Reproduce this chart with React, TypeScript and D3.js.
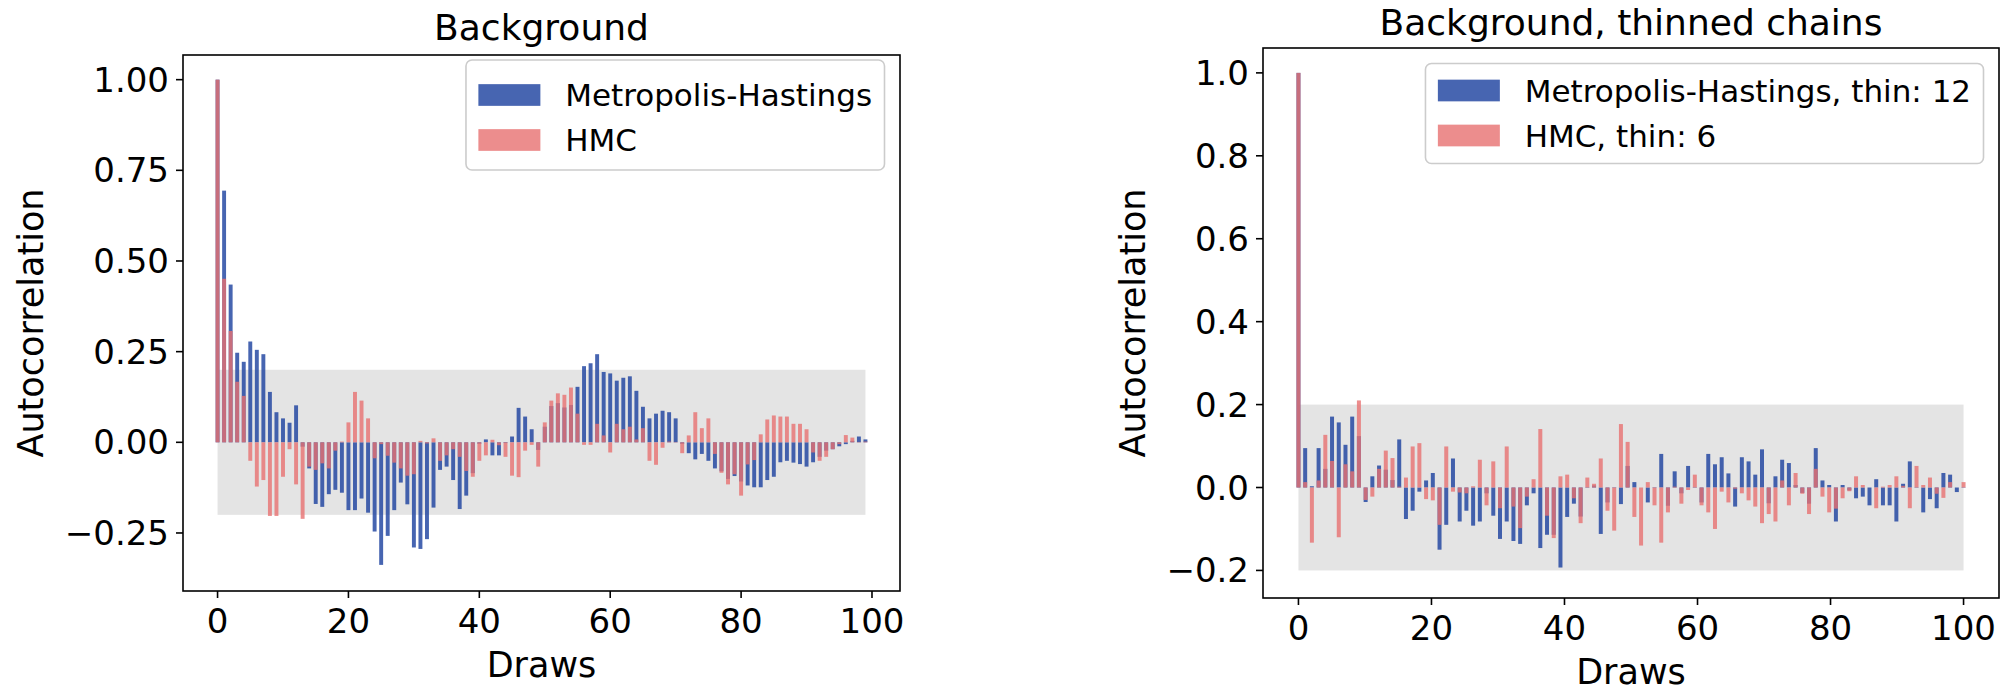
import { useEffect, useRef } from "react";
import * as d3 from "d3";

// lags (left: raw chains, right: thinned chains spread over the same draw axis)
const LEFT_LAGS = Array.from({ length: 100 }, (_, i) => i);
const RIGHT_DRAWS = Array.from({ length: 100 }, (_, i) => (i * 100) / 99);

const LEFT_MH = [
  1.0, 0.694, 0.435, 0.247, 0.222, 0.278, 0.255, 0.243, 0.139, 0.083,
  0.066, 0.054, 0.102, -0.012, -0.072, -0.17, -0.178, -0.143, -0.131, -0.139,
  -0.187, -0.187, -0.155, -0.194, -0.246, -0.338, -0.258, -0.187, -0.111, -0.171,
  -0.29, -0.294, -0.267, -0.18, -0.076, -0.067, -0.104, -0.184, -0.147, -0.085,
  -0.004, 0.008, -0.036, -0.036, -0.002, 0.016, 0.095, 0.071, 0.036, -0.021,
  0.043, 0.1, 0.108, 0.096, 0.103, 0.153, 0.21, 0.218, 0.243, 0.194,
  0.19, 0.17, 0.178, 0.182, 0.142, 0.098, 0.066, 0.079, 0.087, 0.083,
  0.066, -0.004, -0.03, -0.047, -0.032, -0.051, -0.072, -0.08, -0.101, -0.093,
  -0.108, -0.119, -0.124, -0.124, -0.104, -0.095, -0.055, -0.051, -0.056, -0.06,
  -0.067, -0.055, -0.04, -0.023, -0.019, -0.011, -0.005, 0.004, 0.016, 0.008,
];

const LEFT_HMC = [
  1.0, 0.451, 0.307, 0.167, 0.128, -0.051, -0.122, -0.104, -0.203, -0.203,
  -0.095, -0.019, -0.116, -0.211, -0.067, -0.076, -0.058, -0.072, -0.023, 0.002,
  0.055, 0.139, 0.115, 0.066, -0.044, -0.005, -0.037, -0.056, -0.072, -0.092,
  -0.088, 0.004, -0.003, 0.011, -0.051, -0.036, -0.019, -0.04, -0.079, -0.095,
  -0.051, -0.036, 0.007, -0.008, -0.04, -0.092, -0.096, -0.023, -0.007, -0.067,
  0.055, 0.115, 0.135, 0.131, 0.151, 0.079, -0.007, -0.007, 0.051, 0.019,
  -0.028, 0.051, 0.036, 0.043, 0.008, 0.039, -0.051, -0.062, -0.015, 0.002,
  0.001, -0.03, 0.019, 0.083, 0.039, 0.066, -0.032, -0.084, -0.116, -0.088,
  -0.147, -0.061, -0.049, 0.022, 0.063, 0.074, 0.071, 0.071, 0.051, 0.051,
  0.036, -0.028, -0.051, -0.04, -0.019, -0.005, 0.02, 0.013, 0.001, 0.002,
];

const RIGHT_MH = [
  1.0, 0.095, 0.003, 0.095, 0.045, 0.171, 0.157, 0.103, 0.171, 0.124,
  -0.035, 0.027, 0.053, 0.043, 0.018, 0.116, -0.076, -0.056, -0.01, 0.017,
  0.035, -0.15, -0.09, 0.07, -0.082, -0.056, -0.092, -0.082, -0.014, -0.068,
  -0.124, -0.082, -0.129, -0.136, -0.043, -0.014, -0.146, -0.114, -0.114, -0.193,
  -0.071, -0.039, -0.07, 0.001, 0.005, -0.112, -0.036, 0.001, -0.04, 0.052,
  0.013, 0.0, -0.036, 0.001, 0.081, -0.044, 0.039, -0.014, 0.052, 0.001,
  -0.036, 0.081, 0.056, 0.073, 0.034, -0.046, 0.073, 0.063, 0.031, 0.092,
  -0.038, 0.027, 0.067, 0.059, 0.006, -0.013, -0.039, 0.095, 0.017, 0.006,
  -0.082, 0.006, -0.007, -0.026, -0.022, -0.043, 0.02, -0.043, -0.043, -0.082,
  0.009, 0.063, 0.001, -0.06, -0.028, -0.05, 0.035, 0.031, -0.011, 0.001,
];

const RIGHT_HMC = [
  1.0, 0.013, -0.133, 0.017, 0.127, 0.064, -0.12, 0.056, 0.039, 0.21,
  -0.03, -0.022, 0.045, 0.089, 0.071, 0.002, 0.024, 0.099, 0.107, -0.028,
  -0.031, -0.09, 0.099, -0.01, -0.012, -0.014, 0.003, 0.067, -0.043, 0.063,
  -0.05, 0.099, -0.046, -0.098, -0.022, 0.02, 0.141, -0.068, -0.122, 0.027,
  0.031, -0.026, -0.086, 0.024, 0.009, 0.07, -0.056, -0.104, 0.153, 0.11,
  -0.071, -0.14, 0.013, -0.043, -0.133, -0.06, 0.002, -0.039, -0.006, 0.031,
  -0.043, -0.06, -0.1, -0.01, -0.036, -0.003, -0.014, -0.031, -0.046, -0.086,
  -0.064, -0.082, 0.017, -0.043, 0.035, -0.015, -0.064, 0.045, -0.022, -0.06,
  -0.051, -0.026, -0.009, 0.027, 0.006, 0.0, -0.05, 0.002, 0.006, 0.027,
  0.004, -0.05, 0.052, 0.006, 0.024, -0.015, -0.025, 0.013, 0.0, 0.013,
];

const X_TICKS = [0, 20, 40, 60, 80, 100];
const LEFT_Y_TICKS = [-0.25, 0, 0.25, 0.5, 0.75, 1.0];
const RIGHT_Y_TICKS = [-0.2, 0, 0.2, 0.4, 0.6, 0.8, 1.0];

const MH_COLOR = "rgb(25,62,158)";
const HMC_COLOR = "rgb(231,112,113)";
const BAR_ALPHA = 0.8;
const FONT = "'DejaVu Sans', sans-serif";
const TICK_FS = 34;

interface Panel {
  x0: number;
  x1: number;
  y0: number;
  y1: number;
  xDomain: [number, number];
  yDomain: [number, number];
  yTicks: number[];
  yFmt: string;
  xs: number[];
  mh: number[];
  hmc: number[];
  band: [number, number];
  title: string;
  titleY: number;
  ylabelX: number;
  xlabelY: number;
  legend: string[];
  legendTop: number;
  legendH: number;
  legendRow: number;
}

const PANELS: Panel[] = [
  {
    x0: 183, x1: 900, y0: 55, y1: 591,
    xDomain: [-5.28, 104.28], yDomain: [-0.41, 1.068],
    yTicks: LEFT_Y_TICKS, yFmt: ".2f",
    xs: LEFT_LAGS, mh: LEFT_MH, hmc: LEFT_HMC, band: [0, 99],
    title: "Background", titleY: 40, ylabelX: 31, xlabelY: 677,
    legend: ["Metropolis-Hastings", "HMC"],
    legendTop: 60, legendH: 110, legendRow: 35,
  },
  {
    x0: 1263, x1: 1999, y0: 48, y1: 598,
    xDomain: [-5.33, 105.33], yDomain: [-0.2665, 1.06],
    yTicks: RIGHT_Y_TICKS, yFmt: ".1f",
    xs: RIGHT_DRAWS, mh: RIGHT_MH, hmc: RIGHT_HMC, band: [0, 100],
    title: "Background, thinned chains", titleY: 35, ylabelX: 1133, xlabelY: 684,
    legend: ["Metropolis-Hastings, thin: 12", "HMC, thin: 6"],
    legendTop: 63.5, legendH: 100, legendRow: 27,
  },
];

function drawPanel(svg: d3.Selection<SVGSVGElement, unknown, null, undefined>, p: Panel) {
  const x = d3.scaleLinear().domain(p.xDomain).range([p.x0, p.x1]);
  const y = d3.scaleLinear().domain(p.yDomain).range([p.y1, p.y0]);
  const g = svg.append("g");
  const bw = 0.6;

  // +/- 0.2 band
  g.append("rect")
    .attr("x", x(p.band[0]))
    .attr("width", x(p.band[1]) - x(p.band[0]))
    .attr("y", y(0.2))
    .attr("height", y(-0.2) - y(0.2))
    .attr("fill", "#e4e4e4");

  const bars = (vals: number[], color: string) =>
    g.append("g")
      .selectAll("rect")
      .data(vals)
      .join("rect")
      .attr("x", (_, i) => x(p.xs[i] - bw / 2))
      .attr("width", x(bw) - x(0))
      .attr("y", (d) => y(Math.max(0, d)))
      .attr("height", (d) => Math.abs(y(d) - y(0)))
      .attr("fill", color)
      .attr("fill-opacity", BAR_ALPHA);

  bars(p.mh, MH_COLOR);
  bars(p.hmc, HMC_COLOR);

  // frame
  g.append("rect")
    .attr("x", p.x0).attr("y", p.y0)
    .attr("width", p.x1 - p.x0).attr("height", p.y1 - p.y0)
    .attr("fill", "none").attr("stroke", "#000").attr("stroke-width", 1.6);

  // x axis
  const xa = g.append("g").attr("transform", `translate(0,${p.y1})`);
  xa.selectAll("line").data(X_TICKS).join("line")
    .attr("x1", (d) => x(d)).attr("x2", (d) => x(d))
    .attr("y1", 0).attr("y2", 7).attr("stroke", "#000").attr("stroke-width", 1.6);
  xa.selectAll("text").data(X_TICKS).join("text")
    .attr("x", (d) => x(d)).attr("y", 42)
    .attr("text-anchor", "middle")
    .attr("font-family", FONT).attr("font-size", TICK_FS)
    .text((d) => d);

  // y axis
  const fmt = d3.format(p.yFmt);
  const ya = g.append("g").attr("transform", `translate(${p.x0},0)`);
  ya.selectAll("line").data(p.yTicks).join("line")
    .attr("x1", -7).attr("x2", 0)
    .attr("y1", (d) => y(d)).attr("y2", (d) => y(d))
    .attr("stroke", "#000").attr("stroke-width", 1.6);
  ya.selectAll("text").data(p.yTicks).join("text")
    .attr("x", -14).attr("y", (d) => y(d) + 12)
    .attr("text-anchor", "end")
    .attr("font-family", FONT).attr("font-size", TICK_FS)
    .text((d) => fmt(d));

  // labels and title
  const cx = (p.x0 + p.x1) / 2;
  g.append("text")
    .attr("x", cx).attr("y", p.titleY)
    .attr("text-anchor", "middle")
    .attr("font-family", FONT).attr("font-size", 36)
    .text(p.title);
  g.append("text")
    .attr("x", cx).attr("y", p.xlabelY)
    .attr("text-anchor", "middle")
    .attr("font-family", FONT).attr("font-size", 35)
    .text("Draws");
  g.append("text")
    .attr("transform", `translate(${p.ylabelX},${(p.y0 + p.y1) / 2}) rotate(-90)`)
    .attr("text-anchor", "middle")
    .attr("dominant-baseline", "central")
    .attr("font-family", FONT).attr("font-size", 35)
    .text("Autocorrelation");

  // legend, sized from the measured label widths
  const fs = 31;
  const lg = g.append("g");
  const frame = lg.append("rect");
  const texts = lg.selectAll("text").data(p.legend).join("text")
    .attr("font-family", FONT).attr("font-size", fs)
    .attr("dominant-baseline", "central")
    .text((d) => d);
  let tw = 0;
  texts.each(function () {
    tw = Math.max(tw, (this as SVGTextElement).getComputedTextLength());
  });
  const pad = 0.4 * fs;
  const boxW = pad + 2 * fs + 0.8 * fs + tw + pad;
  const bx = p.x1 - 15.5 - boxW;
  const by = p.legendTop;
  frame
    .attr("x", bx).attr("y", by).attr("width", boxW).attr("height", p.legendH)
    .attr("rx", 6).attr("fill", "#fff").attr("fill-opacity", 0.8)
    .attr("stroke", "#cccccc").attr("stroke-width", 1.6);
  const rowY = (i: number) => by + p.legendRow + i * 45;
  lg.selectAll("rect.patch").data([MH_COLOR, HMC_COLOR]).join("rect")
    .attr("class", "patch")
    .attr("x", bx + pad).attr("y", (_, i) => rowY(i) - 0.35 * fs)
    .attr("width", 2 * fs).attr("height", 0.7 * fs)
    .attr("fill", (d) => d).attr("fill-opacity", BAR_ALPHA);
  texts.attr("x", bx + pad + 2.8 * fs).attr("y", (_, i) => rowY(i));
}

export default function App() {
  const svgRef = useRef<SVGSVGElement>(null);

  useEffect(() => {
    if (!svgRef.current) return;
    const svg = d3.select(svgRef.current);
    svg.selectAll("*").remove();
    svg.append("rect").attr("width", 2014).attr("height", 690).attr("fill", "#fff");
    PANELS.forEach((p) => drawPanel(svg, p));
  }, []);

  return (
    <svg
      ref={svgRef}
      width={2014}
      height={690}
      style={{ position: "absolute", left: 0, top: 0, display: "block" }}
    />
  );
}
